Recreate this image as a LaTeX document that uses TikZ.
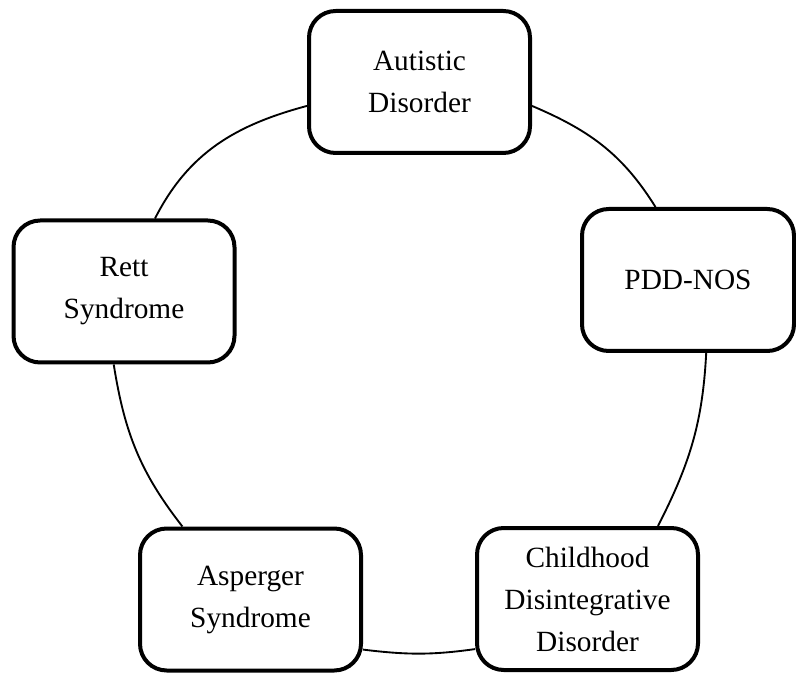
\documentclass[tikz,border=0pt]{standalone}
\usepackage{fontspec}
\setmainfont{Liberation Serif}

\begin{document}
\begin{tikzpicture}[x=0.75pt,y=0.75pt,yscale=-1,xscale=1,
  disorder/.style={draw, line width=3pt, rounded corners=20pt, fill=white,
    minimum width=165.75pt, minimum height=106.5pt, inner sep=0pt,
    align=center, font=\fontsize{22}{31.5}\selectfont},
  link/.style={line width=1.4pt}]
\useasboundingbox (0,0) rectangle (796,673);

%Shape: Rounded Rectangles
\node [disorder] (autistic) at (419.5,82) {Autistic\\Disorder};
\node [disorder, minimum width=159pt] (pddnos) at (688,280) {PDD-NOS};
\node [disorder] (childhood) at (587.5,599) {Childhood\\Disintegrative\\Disorder};
\node [disorder] (asperger) at (250.5,599.5) {Asperger\\Syndrome};
\node [disorder] (rett) at (124,291.5) {Rett\\Syndrome};

%Curve Lines
\draw [link] (autistic.348) to[out=23, in=-122] (pddnos.114);
\draw [link] (pddnos.284) to[out=93, in=-63] (childhood.46);
\draw [link] (childhood.204) to[out=172, in=7] (asperger.336);
\draw [link] (asperger.133) to[out=-128, in=81] (rett.262);
\draw [link] (rett.67) to[out=-63, in=165] (autistic.192);

\end{tikzpicture}
\end{document}
